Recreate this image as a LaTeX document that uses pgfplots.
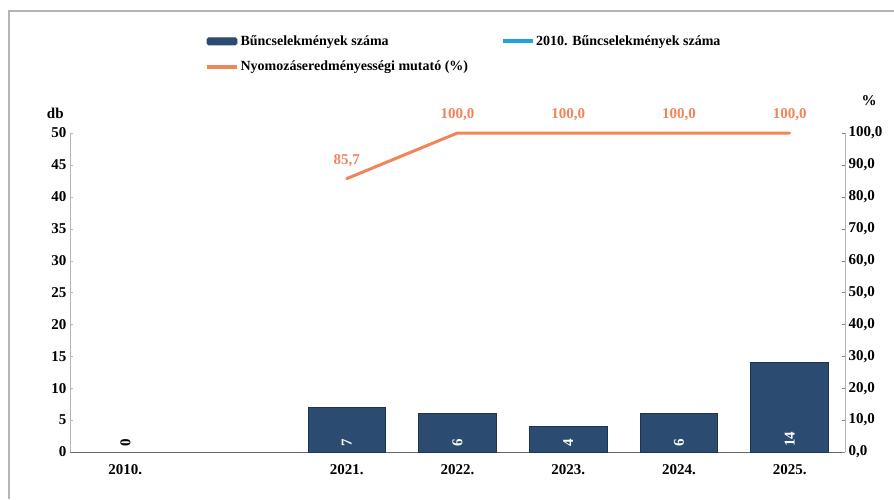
\documentclass[border=0pt]{standalone}
\usepackage{pgfplots}
\pgfplotsset{compat=1.18}
\usepackage{fontspec}
\setmainfont{Liberation Serif}

\definecolor{navy}{HTML}{2C4B70}
\definecolor{navyedge}{HTML}{1E3552}
\definecolor{lineorange}{HTML}{F0845A}
\definecolor{skyblue}{HTML}{1FA2E0}
\definecolor{axgray}{HTML}{B5B5B5}

\newcommand{\lbl}{\fontsize{15}{17}\selectfont\bfseries}
\newcommand{\leg}{\fontsize{14}{16}\selectfont\bfseries}

\begin{document}
\begin{tikzpicture}
\pgfplotsset{
  base/.style={
    scale only axis, width=775pt, height=319pt,
    xmin=-0.5, xmax=6.5,
    clip=false,
    tick label style={font=\lbl},
    /pgf/number format/assume math mode=true,
    major tick length=3pt,
  },
}
% left axis: counts
\begin{axis}[
  base,
  ymin=0, ymax=50, ytick={0,5,...,50},
  axis x line*=bottom, axis y line*=left,
  x axis line style={draw=gray!80!black, line width=0.8pt, -},
  y axis line style={draw=axgray, line width=0.8pt, -},
  xtick={0,2,3,4,5,6},
  xticklabels={2010.,2021.,2022.,2023.,2024.,2025.},
  xtick style={draw=none},
  ytick style={draw=axgray},
  xticklabel style={yshift=-9pt},
  legend columns=2,
  legend style={
    at={(0.174,1.312)}, anchor=north west,
    draw=none, fill=none, font=\leg,
    inner sep=0pt, row sep=10pt,
    /tikz/every even column/.append style={column sep=31pt},
    nodes={inner xsep=1.5pt},
  },
  legend cell align=left,
]
\addplot[ybar, bar width=0.7, bar shift=0, fill=navy, draw=navyedge, line width=0.8pt,
  legend image code/.code={\fill[navy, rounded corners=1.5pt] (0pt,-3.5pt) rectangle (30pt,3.5pt);}]
  coordinates {(2,7) (3,6) (4,4) (5,6) (6,14)};
\addlegendentry{Bűncselekmények száma}

\addlegendimage{legend image code/.code={\draw[skyblue, line width=4pt] (0pt,0pt) -- (30pt,0pt);}}
\addlegendentry{2010. Bűncselekmények száma}

\addlegendimage{legend image code/.code={\draw[lineorange, line width=4pt] (0pt,0pt) -- (30pt,0pt);}}
\addlegendentry{Nyomozáseredményességi mutató (\%)}

% value labels inside the bars
\addplot[draw=none, forget plot, nodes near coords, point meta=explicit symbolic,
  every node near coord/.append style={white, rotate=90, anchor=center, font=\lbl, inner sep=0pt}]
  coordinates {(2,1.4)[7] (3,1.4)[6] (4,1.4)[4] (5,1.4)[6] (6,2)[14]};
% 2010 value
\addplot[draw=none, forget plot, nodes near coords, point meta=explicit symbolic,
  every node near coord/.append style={black, rotate=90, anchor=center, font=\lbl, inner sep=0pt}]
  coordinates {(0,1.5)[0]};

\node[font=\lbl] at (axis description cs:-0.019,1.063) {db};
\end{axis}

% right axis: percentage
\begin{axis}[
  base,
  ymin=0, ymax=100, ytick={0,10,...,100},
  axis x line=none, axis y line*=right,
  y axis line style={draw=axgray, line width=0.8pt, -},
  ytick style={draw=gray},
  yticklabel style={/pgf/number format/.cd, fixed, zerofill, precision=1, use comma},
]
\addplot[lineorange, line width=3pt, line cap=round, line join=round,
  nodes near coords,
  nodes near coords style={lineorange, font=\lbl, anchor=south, yshift=7pt,
    /pgf/number format/.cd, fixed, zerofill, precision=1, use comma}]
  coordinates {(2,85.7) (3,100) (4,100) (5,100) (6,100)};
\node[font=\lbl] at (axis description cs:1.031,1.103) {\%};
\end{axis}

% faint frame of the scanned page
\draw[axgray, line width=2pt] (-61pt,-47pt) -- (-61pt,441pt) -- (824pt,441pt);
\pgfresetboundingbox
\useasboundingbox (-70pt,-47pt) rectangle (824pt,452pt);
\end{tikzpicture}
\end{document}
